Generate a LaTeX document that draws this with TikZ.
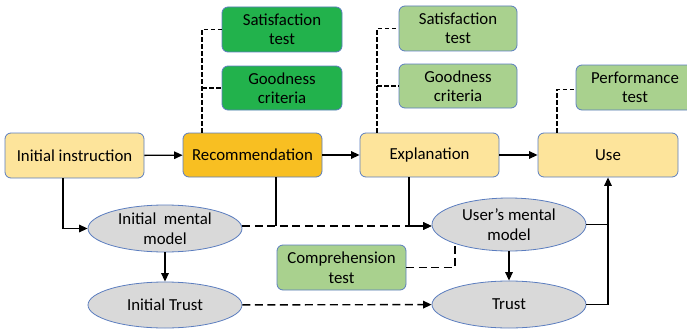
\documentclass[tikz,border=0pt]{standalone}
\usepackage{fontspec}
\setmainfont{Carlito}
\usetikzlibrary{arrows.meta,shapes.geometric}
\definecolor{ylw}{HTML}{FDE49B}
\definecolor{gold}{HTML}{F8BF22}
\definecolor{dgreen}{HTML}{22B24C}
\definecolor{lgreen}{HTML}{A9D18E}
\definecolor{grey}{HTML}{D9D9D9}
\definecolor{bord}{HTML}{5B7DBF}
\tikzset{
  boxbase/.style={rectangle, rounded corners=6pt, draw=bord, line width=0.8pt, inner sep=0pt, align=center, font=\fontsize{16.8}{19.5}\selectfont},
  ybox/.style={boxbase, fill=ylw},
  gbox/.style={boxbase, fill=gold},
  dgbox/.style={boxbase, fill=dgreen},
  lgbox/.style={boxbase, fill=lgreen},
  ell/.style={ellipse, draw=bord, line width=0.8pt, fill=grey, inner sep=0pt, align=center, font=\fontsize{16.8}{19.5}\selectfont},
  arr/.style={-{Triangle[length=8.5pt,width=7.5pt]}, line width=1.4pt},
  ln/.style={line width=1.4pt},
  dsh/.style={line width=1.4pt, dash pattern=on 8pt off 4.5pt},
  dshs/.style={line width=1.3pt, dash pattern=on 4.5pt off 2.5pt},
}
\begin{document}
\begin{tikzpicture}[x=1pt,y=-1pt]
\useasboundingbox (0,0) rectangle (687,329);
\clip (0,0) rectangle (687,329);
% boxes
\node[ybox, minimum width=139pt, minimum height=45pt] (ii) at (74.5,155.5) {Initial instruction};
\node[gbox, minimum width=139pt, minimum height=44pt] (rec) at (252.5,155) {Recommendation};
\node[ybox, minimum width=139pt, minimum height=44pt] (expl) at (429.5,155) {Explanation};
\node[ybox, minimum width=140pt, minimum height=44pt] (use) at (608,155) {Use};
\node[dgbox, minimum width=120pt, minimum height=45pt] (sat1) at (282,29.5) {Satisfaction\\test};
\node[dgbox, minimum width=120pt, minimum height=44pt] (good1) at (282,88) {Goodness\\criteria};
\node[lgbox, minimum width=118pt, minimum height=45pt] (sat2) at (458,28.5) {Satisfaction\\test};
\node[lgbox, minimum width=118pt, minimum height=44pt] (good2) at (458,86) {Goodness\\criteria};
\node[lgbox, minimum width=118pt, minimum height=45pt] (perf) at (635,87.5) {Performance\\test};
\node[lgbox, minimum width=129pt, minimum height=45pt] (comp) at (341.5,267.5) {Comprehension\\test};
% ellipses
\node[ell, minimum width=154pt, minimum height=47pt] (imm) at (165,228.5) {Initial\ \ mental\\model};
\node[ell, minimum width=154pt, minimum height=46pt] (it) at (165,305) {Initial Trust};
\node[ell, minimum width=154pt, minimum height=53pt] (umm) at (509,224.5) {User’s mental\\model};
\node[ell, minimum width=154pt, minimum height=47pt] (tr) at (509,304.5) {Trust};
% coordinates
\coordinate (j) at (0,226);
\coordinate (r1) at (202,88);
\coordinate (e1) at (377,86);
\coordinate (cu) at (455,243.4);
% main flow
\draw[arr] (ii) -- (rec);
\draw[arr] (rec) -- (expl);
\draw[arr] (expl) -- (use);
\draw[arr] ([xshift=-11.5pt]ii.south) |- (imm.west);
\draw[ln] ([xshift=23.5pt]rec.south) -- ([xshift=23.5pt]rec.south |- j);
\draw[arr,dsh] (imm.east |- j) -- (umm.west |- j);
\draw[arr] ([xshift=-20.5pt]expl.south) |- (umm.west |- j);
\draw[arr] (imm) -- (it);
\draw[arr] (umm) -- (tr);
\draw[arr,dsh] (it) -- (tr);
\draw[ln] (umm.east) -- (umm.east -| use.south);
\draw[arr] (tr.east) -| (use.south);
\draw[dsh] (comp.east) -| (cu);
% test links
\draw[dshs] ([xshift=-50.5pt]rec.north) |- (sat1.west);
\draw[dshs] (r1) -- (good1.west);
\draw[dshs] ([xshift=-52.5pt]expl.north) |- (sat2.west);
\draw[dshs] (e1) -- (good2.west);
\draw[dshs] ([xshift=-51pt]use.north) |- ([yshift=-2pt]perf.west);
\end{tikzpicture}
\end{document}
